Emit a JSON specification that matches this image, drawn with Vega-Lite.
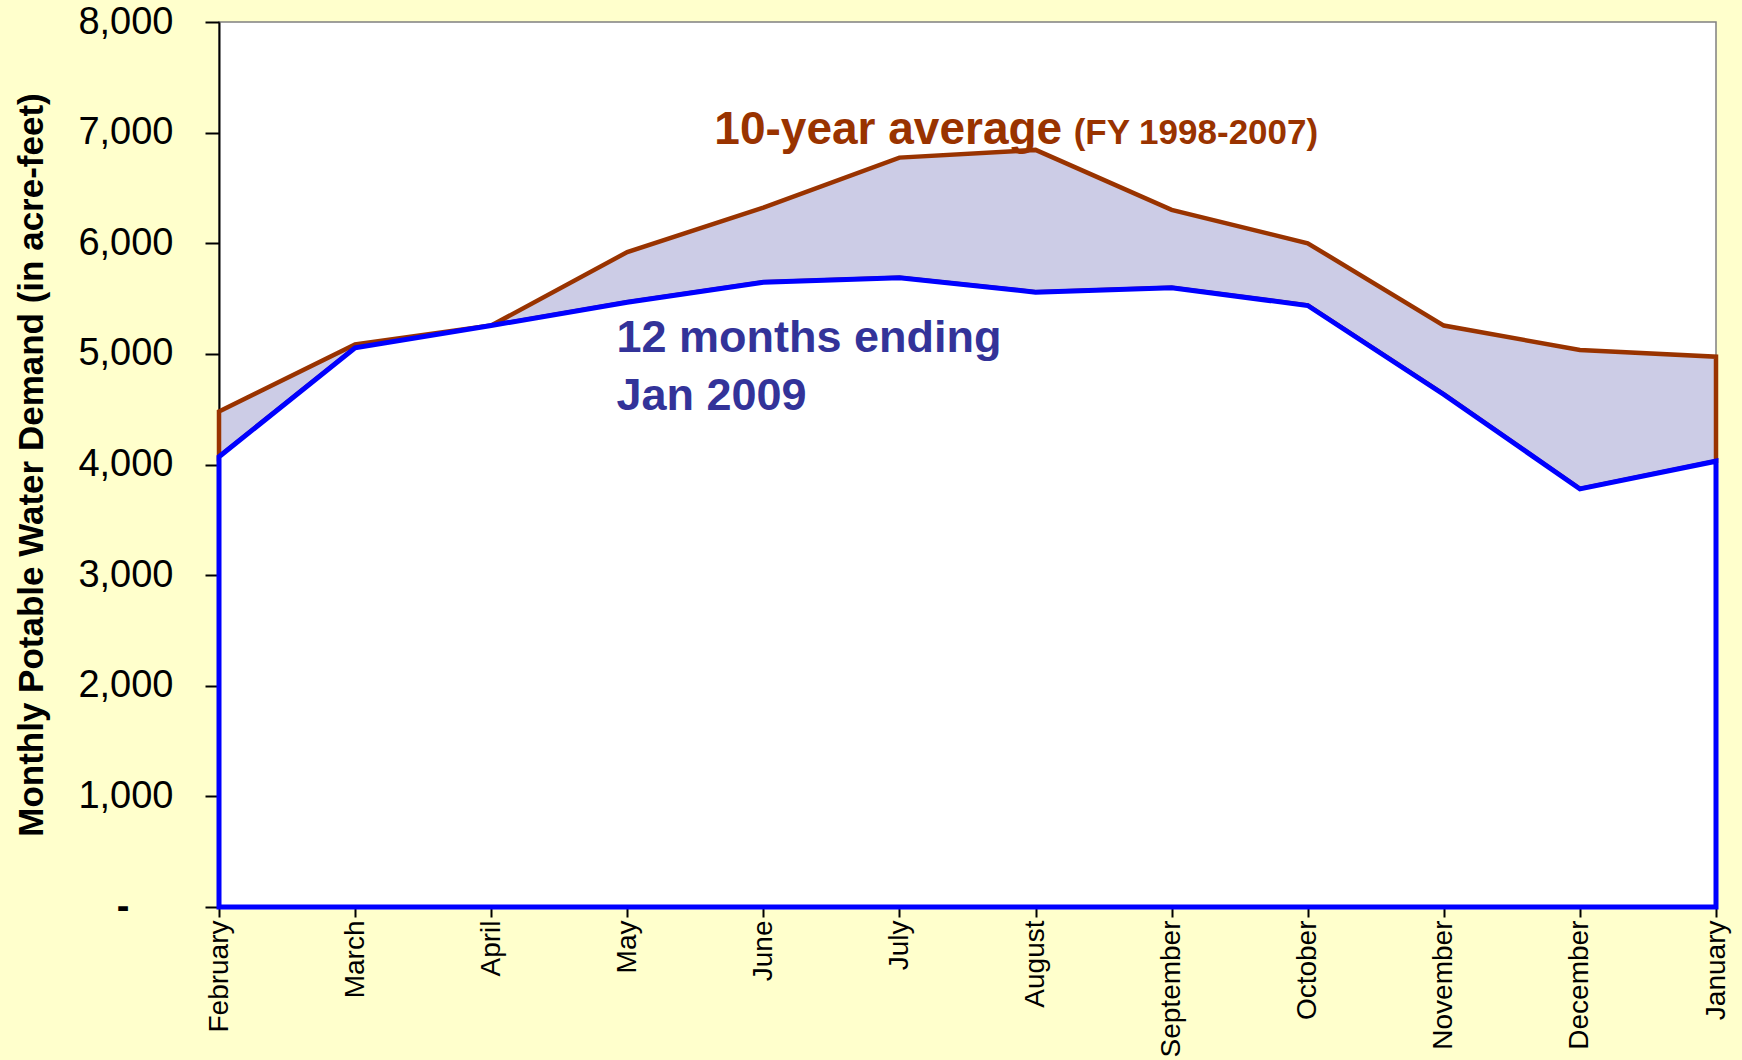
{
  "$schema": "https://vega.github.io/schema/vega-lite/v6.json",
  "autosize": {"type": "none"},
  "padding": {"left": 219, "top": 22, "right": 26, "bottom": 153},
  "width": 1497,
  "height": 885,
  "background": "#FFFFCC",
  "config": {
    "view": {"stroke": "#808080", "strokeWidth": 1.5, "fill": "white"},
    "font": "Liberation Sans",
    "axis": {"domainColor": "black", "domainWidth": 2, "tickColor": "black", "tickWidth": 2, "grid": false, "labelColor": "black", "titleColor": "black", "labelFont": "Liberation Sans", "titleFont": "Liberation Sans"}
  },
  "datasets": {
    "demand": [
      {"m": 0, "month": "February", "avg": 4480, "cur": 4070},
      {"m": 1, "month": "March", "avg": 5085, "cur": 5055},
      {"m": 2, "month": "April", "avg": 5256, "cur": 5256},
      {"m": 3, "month": "May", "avg": 5920, "cur": 5467},
      {"m": 4, "month": "June", "avg": 6322, "cur": 5648},
      {"m": 5, "month": "July", "avg": 6774, "cur": 5688},
      {"m": 6, "month": "August", "avg": 6844, "cur": 5558},
      {"m": 7, "month": "September", "avg": 6302, "cur": 5598},
      {"m": 8, "month": "October", "avg": 6000, "cur": 5437},
      {"m": 9, "month": "November", "avg": 5256, "cur": 4633},
      {"m": 10, "month": "December", "avg": 5035, "cur": 3779},
      {"m": 11, "month": "January", "avg": 4975, "cur": 4030}
    ],
    "notes": [
      {"x": 3.64, "y": 6900, "label": "10-year average", "grp": "avgbig"},
      {"x": 6.28, "y": 6900, "label": "(FY 1998-2007)", "grp": "avgsmall"},
      {"x": 2.92, "y": 5017, "label": "12 months ending", "grp": "cur"},
      {"x": 2.92, "y": 4493, "label": "Jan 2009", "grp": "cur"}
    ]
  },
  "encoding": {
    "x": {
      "field": "m", "type": "quantitative",
      "scale": {"domain": [0, 11], "nice": false, "zero": false},
      "axis": {
        "title": null,
        "values": [0, 1, 2, 3, 4, 5, 6, 7, 8, 9, 10, 11],
        "labelExpr": "['February','March','April','May','June','July','August','September','October','November','December','January'][datum.value]",
        "labelAngle": -90,
        "labelFontSize": 28,
        "tickSize": 10,
        "labelPadding": 3
      }
    }
  },
  "layer": [
    {
      "data": {"name": "demand"},
      "mark": {"type": "area", "fill": "#CCCCE6", "stroke": "#993300", "strokeWidth": 4.5, "strokeJoin": "miter"},
      "encoding": {
        "y": {
          "field": "avg", "type": "quantitative",
          "scale": {"domain": [0, 8000], "nice": false},
          "axis": {
            "title": "Monthly Potable Water Demand (in acre-feet)",
            "titleFontSize": 35,
            "titleFontWeight": "bold",
            "titlePadding": 28,
            "values": [0, 1000, 2000, 3000, 4000, 5000, 6000, 7000, 8000],
            "format": ",.0f",
            "labelExpr": "datum.value == 0 ? '-' : datum.label",
            "labelFontSize": 38,
            "labelFontWeight": {"condition": {"test": "datum.value == 0", "value": "bold"}, "value": "normal"},
            "tickSize": 14,
            "labelPadding": {"condition": {"test": "datum.value == 0", "value": 76}, "value": 32}
          }
        },
        "y2": {"field": "cur"}
      }
    },
    {
      "data": {"name": "demand"},
      "mark": {"type": "area", "fill": "white", "stroke": "#0000FF", "strokeWidth": 5, "strokeJoin": "miter"},
      "encoding": {
        "y": {"field": "cur", "type": "quantitative"},
        "y2": {"datum": 0}
      }
    },
    {
      "data": {"name": "notes"},
      "transform": [{"filter": "datum.grp == 'avgbig'"}],
      "mark": {"type": "text", "align": "left", "baseline": "alphabetic", "fontSize": 46, "fontWeight": "bold", "color": "#993300"},
      "encoding": {
        "x": {"field": "x", "type": "quantitative"},
        "y": {"field": "y", "type": "quantitative"},
        "text": {"field": "label"}
      }
    },
    {
      "data": {"name": "notes"},
      "transform": [{"filter": "datum.grp == 'avgsmall'"}],
      "mark": {"type": "text", "align": "left", "baseline": "alphabetic", "fontSize": 35, "fontWeight": "bold", "color": "#993300"},
      "encoding": {
        "x": {"field": "x", "type": "quantitative"},
        "y": {"field": "y", "type": "quantitative"},
        "text": {"field": "label"}
      }
    },
    {
      "data": {"name": "notes"},
      "transform": [{"filter": "datum.grp == 'cur'"}],
      "mark": {"type": "text", "align": "left", "baseline": "alphabetic", "fontSize": 45, "fontWeight": "bold", "color": "#333399"},
      "encoding": {
        "x": {"field": "x", "type": "quantitative"},
        "y": {"field": "y", "type": "quantitative"},
        "text": {"field": "label"}
      }
    }
  ]
}
